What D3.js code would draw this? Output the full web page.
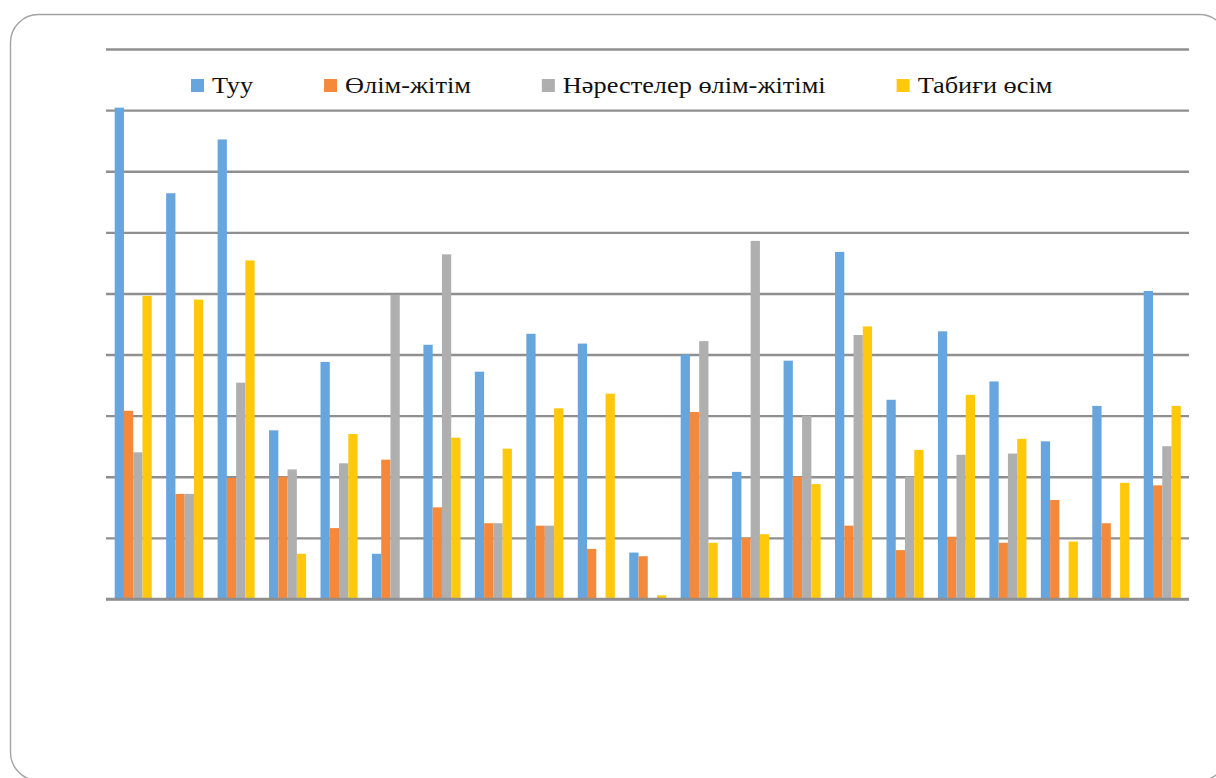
<!DOCTYPE html>
<html>
<head>
<meta charset="utf-8">
<script src="https://cdn.jsdelivr.net/npm/d3@7"></script>
<style>
  html, body { margin: 0; padding: 0; background: #fff; }
  svg { display: block; }
</style>
</head>
<body>
<svg id="chart" width="1216" height="778"></svg>
<script>
// Categories (unlabelled groups along the x axis)
const categories = ["1","2","3","4","5","6","7","8","9","10","11","12","13","14","15","16","17","18","19","20","21"];

// Series names as shown in the legend
const seriesNames = ["Туу", "Өлім-жітім", "Нәрестелер өлім-жітімі", "Табиғи өсім"];

// Series values, one per category
const births      = [40.2, 33.2, 37.6, 13.8, 19.4, 3.7, 20.8, 18.6, 21.7, 20.9, 3.8, 20.0, 10.4, 19.5, 28.4, 16.3, 21.9, 17.8, 12.9, 15.8, 25.2];
const deaths      = [15.4, 8.6, 9.9, 10.0, 5.8, 11.4, 7.5, 6.2, 6.0, 4.1, 3.5, 15.3, 5.0, 10.0, 6.0, 4.0, 5.1, 4.6, 8.1, 6.2, 9.3];
const infantDeaths= [12.0, 8.6, 17.7, 10.6, 11.1, 24.9, 28.2, 6.2, 6.0, 0, 0, 21.1, 29.3, 15.0, 21.6, 10.0, 11.8, 11.9, 0, 0, 12.5];
const naturalGrowth=[24.8, 24.5, 27.7, 3.7, 13.5, 0, 13.2, 12.3, 15.6, 16.8, 0.3, 4.6, 5.3, 9.4, 22.3, 12.2, 16.7, 13.1, 4.7, 9.5, 15.8];

// Gridline values
const yTicks = [0, 5, 10, 15, 20, 25, 30, 35, 40, 45];

const colors = ["#67a5df", "#f4883b", "#afafaf", "#ffc80b"];

const seriesValues = [births, deaths, infantDeaths, naturalGrowth];
const rows = categories.map((c, i) => ({
  category: c,
  values: seriesValues.map((arr, s) => ({ series: s, value: arr[i] }))
}));

const svg = d3.select("#chart");

// Rounded card frame
svg.append("rect")
  .attr("x", 10.5).attr("y", 14.5)
  .attr("width", 1217).attr("height", 766)
  .attr("rx", 28).attr("ry", 28)
  .attr("fill", "#fff")
  .attr("stroke", "#a3a3a3")
  .attr("stroke-width", 1.4);

const plot = { left: 106, right: 1189, top: 49, bottom: 599 };

const y = d3.scaleLinear().domain([0, 45]).range([plot.bottom, plot.top]);

const x0 = d3.scaleBand()
  .domain(categories)
  .range([107.5, 1188])
  .paddingInner(0.28)
  .paddingOuter(0.14);

const x1 = d3.scaleBand()
  .domain(d3.range(seriesNames.length))
  .range([0, x0.bandwidth()])
  .padding(0);

// Horizontal gridlines
const yAxis = d3.axisLeft(y)
  .tickValues(yTicks)
  .tickSize(-(plot.right - plot.left))
  .tickFormat("");

const grid = svg.append("g")
  .attr("transform", `translate(${plot.left},0)`)
  .call(yAxis);
grid.select(".domain").remove();
grid.selectAll(".tick line")
  .attr("stroke", "#8f8f8f")
  .attr("stroke-width", 2.4);

// Bars
const groups = svg.append("g")
  .selectAll("g")
  .data(rows)
  .join("g")
  .attr("transform", d => `translate(${x0(d.category)},0)`);

groups.selectAll("rect")
  .data(d => d.values)
  .join("rect")
  .attr("x", d => x1(d.series))
  .attr("width", x1.bandwidth())
  .attr("y", d => y(d.value))
  .attr("height", d => y(0) - y(d.value))
  .attr("fill", d => colors[d.series]);

// Redraw the baseline over the bars
svg.append("line")
  .attr("x1", plot.left).attr("x2", plot.right)
  .attr("y1", y(0)).attr("y2", y(0))
  .attr("stroke", "#8f8f8f")
  .attr("stroke-width", 2.4);

// Legend: serif labels, slightly widened horizontally
const legend = svg.append("g").attr("class", "legend");
const stretch = 1.17;
let lx = 191;
const gap = 71;
seriesNames.forEach((name, i) => {
  legend.append("rect")
    .attr("x", lx).attr("y", 79)
    .attr("width", 13).attr("height", 13)
    .attr("fill", colors[i]);
  const t = legend.append("text")
    .attr("transform", `translate(${lx + 21},92.5) scale(${stretch},1)`)
    .style("font-family", '"Liberation Serif", "Times New Roman", serif')
    .style("font-size", "22.5px")
    .attr("fill", "#111")
    .text(name);
  lx = lx + 21 + t.node().getComputedTextLength() * stretch + gap;
});
</script>
</body>
</html>
